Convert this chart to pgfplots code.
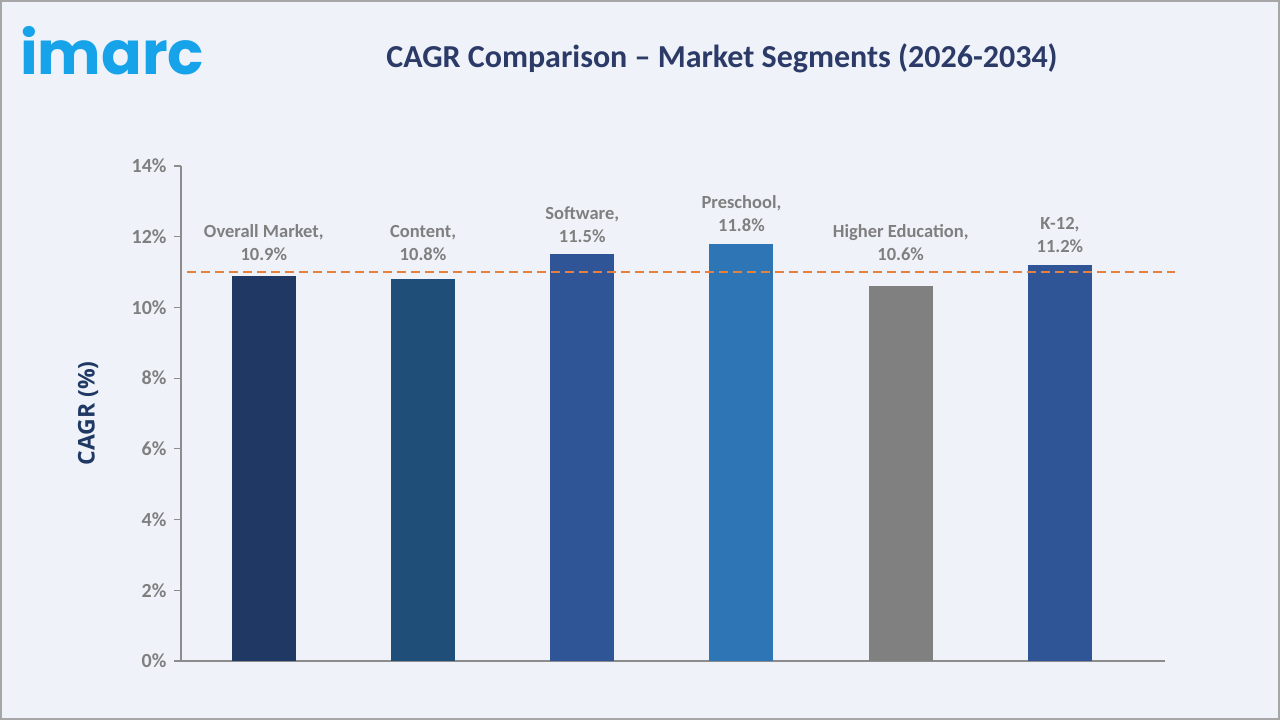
\documentclass[border=0pt]{standalone}
\usepackage{fontspec}
\setmainfont{Carlito}
\newfontfamily\logofont{Poppins}
\newfontfamily\labelfont{Open Sans}
\usepackage{pgfplots}
\pgfplotsset{compat=1.18}

\definecolor{bgcol}{HTML}{EFF3F9}
\definecolor{framecol}{HTML}{A6A6A6}
\definecolor{logocol}{HTML}{16A3EA}
\definecolor{titlecol}{HTML}{2B3A67}
\definecolor{ylabcol}{HTML}{1F3864}
\definecolor{tickcol}{HTML}{7F7F7F}
\definecolor{axiscol}{HTML}{8C8C8C}
\definecolor{refcol}{HTML}{E5813E}
\definecolor{barA}{HTML}{203864}
\definecolor{barB}{HTML}{1F4E79}
\definecolor{barC}{HTML}{2F5597}
\definecolor{barD}{HTML}{2E75B6}
\definecolor{barE}{HTML}{808080}

% reference CAGR of the overall market line
\def\refcagr{11}

% one bar: position, value, colour, segment name
\newcommand{\segbar}[4]{%
  \addplot[ybar, bar width=64pt, bar shift=0pt, fill=#3, draw=none,
    nodes near coords={#4,\\\pgfmathprintnumber[fixed,precision=1,fixed zerofill]{\pgfplotspointmeta}\%},
    every node near coord/.style={anchor=south, inner sep=0pt, align=center,
      text=tickcol, font=\bfseries\fontsize{18.5}{23}\selectfont,
      yshift={max(\refcagr-#2,0)*35.357+11.7}}]
    coordinates {(#1,#2)};
}

\begin{document}
\begin{tikzpicture}[x=1pt,y=1pt]
\fill[bgcol] (0,0) rectangle (1280,720);
\draw[framecol, line width=2pt] (1,1) rectangle (1279,719);

\node[anchor=base west, inner sep=0pt, text=logocol,
  font=\logofont\bfseries\fontsize{60}{60}\selectfont] at (20,645) {imarc};

\node[text=titlecol, font=\bfseries\fontsize{32}{36}\selectfont]
  at (722,662) {CAGR Comparison – Market Segments (2026-2034)};

\begin{axis}[
  at={(181pt,59pt)}, anchor=south west,
  scale only axis, width=984pt, height=495pt,
  xmin=-0.52, xmax=5.66, ymin=0, ymax=14,
  clip=false,
  axis x line*=bottom, axis y line*=left,
  axis line style={axiscol, line width=1.2pt},
  xtick=\empty,
  ytick={0,2,...,14},
  yticklabel={\pgfmathprintnumber{\tick}\%},
  /pgf/number format/assume math mode=true,
  tick align=outside, major tick length=7pt,
  ytick style={axiscol, line width=1.2pt},
  yticklabel style={text=tickcol, xshift=-4pt, font=\bfseries\fontsize{20}{24}\selectfont},
  ylabel={CAGR (\%)},
  ylabel style={at={(axis description cs:-0.0945,0.5)}, anchor=center,
    text=ylabcol, font=\labelfont\bfseries\fontsize{23}{26}\selectfont},
]
\segbar{0}{10.9}{barA}{Overall Market}
\segbar{1}{10.8}{barB}{Content}
\segbar{2}{11.5}{barC}{Software}
\segbar{3}{11.8}{barD}{Preschool}
\segbar{4}{10.6}{barE}{Higher Education}
\segbar{5}{11.2}{barC}{K-12}
\addplot[refcol, line width=2pt, dash pattern=on 9pt off 5pt]
  coordinates {(-0.483,\refcagr) (5.72,\refcagr)};
\end{axis}
\end{tikzpicture}
\end{document}
